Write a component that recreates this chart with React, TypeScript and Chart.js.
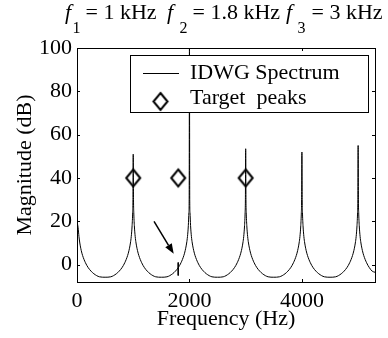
import React, { useEffect, useRef } from "react";
import { Chart, registerables } from "chart.js";

Chart.register(...registerables);

// ---- data ----
const freqs = [
  0, 20, 35, 50, 75, 100, 150, 200, 250, 300, 400,
  500, 600, 700, 750, 800, 850, 900, 925, 950, 965, 980, 990, 995,
  1000, 1005, 1010, 1020, 1035, 1050, 1075, 1100, 1150, 1200, 1250, 1300, 1400,
  1500, 1600, 1700, 1750, 1800, 1850, 1900, 1925, 1950, 1965, 1980, 1990, 1995,
  2000, 2005, 2010, 2020, 2035, 2050, 2075, 2100, 2150, 2200, 2250, 2300, 2400,
  2500, 2600, 2700, 2750, 2800, 2850, 2900, 2925, 2950, 2965, 2980, 2990, 2995,
  3000, 3005, 3010, 3020, 3035, 3050, 3075, 3100, 3150, 3200, 3250, 3300, 3400,
  3500, 3600, 3700, 3750, 3800, 3850, 3900, 3925, 3950, 3965, 3980, 3990, 3995,
  4000, 4005, 4010, 4020, 4035, 4050, 4075, 4100, 4150, 4200, 4250, 4300, 4400,
  4500, 4600, 4700, 4750, 4800, 4850, 4900, 4925, 4950, 4965, 4980, 4990, 4995,
  5000, 5005, 5010, 5020, 5035, 5050, 5075, 5100, 5150, 5200, 5250, 5300,
];
const mags = [
  20, 17, 13, 10, 6.6, 4.2, 0.9, -1.4, -3, -4.2, -5.6,
  -5.8, -5.6, -4.2, -3, -1.4, 0.9, 4.2, 6.6, 10, 13, 18, 24, 30,
  51, 30, 24, 18, 13, 10, 6.6, 4.2, 0.9, -1.4, -3, -4.2, -5.6,
  -5.8, -5.6, -4.2, -3, -1.4, 0.9, 4.2, 6.6, 10, 13, 18, 24, 30,
  100, 30, 24, 18, 13, 10, 6.6, 4.2, 0.9, -1.4, -3, -4.2, -5.6,
  -5.8, -5.6, -4.2, -3, -1.4, 0.9, 4.2, 6.6, 10, 13, 18, 24, 30,
  53.5, 30, 24, 18, 13, 10, 6.6, 4.2, 0.9, -1.4, -3, -4.2, -5.6,
  -5.8, -5.6, -4.2, -3, -1.4, 0.9, 4.2, 6.6, 10, 13, 18, 24, 30,
  52, 30, 24, 18, 13, 10, 6.6, 4.2, 0.9, -1.4, -3, -4.2, -5.6,
  -5.8, -5.6, -4.2, -3, -1.4, 0.9, 4.2, 6.6, 10, 13, 18, 24, 30,
  55, 30, 24, 18, 13, 10, 6.6, 4.2, 0.9, -1.4, -3, -3.5,
];
const targetFreqs = [1000, 1800, 3000];
const targetMags = [40, 40, 40];
const markFreqs = [1800, 1800];
const markMags = [1, -5];
const arrowFrom = [1370, 20];
const arrowTo = [1720, 5];
const xTicks = [0, 2000, 4000];
const yTicks = [0, 20, 40, 60, 80, 100];
const xRange = [0, 5300];
const yRange = [-8, 100];
const legendLabels = ["IDWG Spectrum", "Target  peaks"];
const titleSubs = ["1", "2", "3"];
const titleTexts = ["= 1 kHz", "= 1.8 kHz", "= 3 kHz"];
const xTitle = "Frequency (Hz)";
const yTitle = "Magnitude (dB)";

const FONT = "'Liberation Serif', 'Times New Roman', Times, serif";
const FS = 22;

function makeDiamond(hw: number, hh: number): HTMLCanvasElement {
  const c = document.createElement("canvas");
  const pad = 3;
  c.width = Math.ceil(hw * 2 + pad * 2);
  c.height = Math.ceil(hh * 2 + pad * 2);
  const g = c.getContext("2d")!;
  const cx = c.width / 2;
  const cy = c.height / 2;
  g.strokeStyle = "#000";
  g.lineWidth = 2;
  g.lineJoin = "miter";
  g.beginPath();
  g.moveTo(cx, cy - hh);
  g.lineTo(cx + hw, cy);
  g.lineTo(cx, cy + hh);
  g.lineTo(cx - hw, cy);
  g.closePath();
  g.stroke();
  return c;
}

export default function App() {
  const ref = useRef<HTMLCanvasElement>(null);

  useEffect(() => {
    const canvas = ref.current!;
    const diamond = makeDiamond(7, 8.5);

    const decor = {
      id: "decor",
      afterDraw(chart: any) {
        const { ctx, chartArea: a, scales } = chart;
        const xs = scales.x;
        const ys = scales.y;
        ctx.save();
        ctx.strokeStyle = "#000";
        ctx.fillStyle = "#000";
        ctx.lineWidth = 1;

        // inward ticks on all four sides
        const tl = 3;
        ctx.beginPath();
        for (const v of xTicks) {
          const px = Math.round(xs.getPixelForValue(v)) + 0.5;
          ctx.moveTo(px, a.bottom);
          ctx.lineTo(px, a.bottom - tl);
          ctx.moveTo(px, a.top);
          ctx.lineTo(px, a.top + tl);
        }
        for (const v of yTicks) {
          const py = Math.round(ys.getPixelForValue(v)) + 0.5;
          ctx.moveTo(a.left, py);
          ctx.lineTo(a.left + tl, py);
          ctx.moveTo(a.right, py);
          ctx.lineTo(a.right - tl, py);
        }
        ctx.stroke();

        // box
        ctx.strokeRect(
          Math.round(a.left) + 0.5,
          Math.round(a.top) + 0.5,
          Math.round(a.right - a.left),
          Math.round(a.bottom - a.top)
        );

        // arrow
        const x0 = xs.getPixelForValue(arrowFrom[0]);
        const y0 = ys.getPixelForValue(arrowFrom[1]);
        const x1 = xs.getPixelForValue(arrowTo[0]);
        const y1 = ys.getPixelForValue(arrowTo[1]);
        const ang = Math.atan2(y1 - y0, x1 - x0);
        const hl = 10;
        const hw = 3.8;
        const bx = x1 - hl * Math.cos(ang);
        const by = y1 - hl * Math.sin(ang);
        ctx.lineWidth = 1.5;
        ctx.beginPath();
        ctx.moveTo(x0, y0);
        ctx.lineTo(bx, by);
        ctx.stroke();
        ctx.beginPath();
        ctx.moveTo(x1, y1);
        ctx.lineTo(bx + hw * Math.sin(ang), by - hw * Math.cos(ang));
        ctx.lineTo(bx - hw * Math.sin(ang), by + hw * Math.cos(ang));
        ctx.closePath();
        ctx.fill();

        // legend
        ctx.lineWidth = 1;
        ctx.fillStyle = "#fff";
        ctx.fillRect(130, 55, 238, 57);
        ctx.strokeRect(130.5, 55.5, 238, 57);
        ctx.beginPath();
        ctx.moveTo(143, 73.5);
        ctx.lineTo(179, 73.5);
        ctx.stroke();
        ctx.drawImage(
          diamond,
          160.5 - diamond.width / 2,
          101.5 - diamond.height / 2
        );
        ctx.fillStyle = "#000";
        ctx.font = `${FS}px ${FONT}`;
        ctx.textBaseline = "alphabetic";
        ctx.textAlign = "left";
        ctx.fillText(legendLabels[0], 190, 79);
        ctx.fillText(legendLabels[1], 190, 103.5);

        // title with italic f and subscripts
        const fX = [65, 167, 286];
        const sX = [72.5, 179.5, 297.5];
        const tX = [85.5, 192.5, 311.5];
        for (let i = 0; i < 3; i++) {
          ctx.font = `italic ${FS}px ${FONT}`;
          ctx.fillText("f", fX[i], 19);
          ctx.font = `16px ${FONT}`;
          ctx.fillText(titleSubs[i], sX[i], 33);
          ctx.font = `${FS}px ${FONT}`;
          ctx.fillText(titleTexts[i], tX[i], 19);
        }
        ctx.restore();
      },
    };

    const chart = new Chart(canvas, {
      type: "line",
      data: {
        datasets: [
          {
            label: legendLabels[0],
            data: freqs.map((f, i) => ({ x: f, y: mags[i] })),
            borderColor: "#000",
            borderWidth: 1,
            pointRadius: 0,
            cubicInterpolationMode: "monotone",
            fill: false,
          },
          {
            label: legendLabels[1],
            data: targetFreqs.map((f, i) => ({ x: f, y: targetMags[i] })),
            showLine: false,
            pointStyle: diamond as any,
            pointRadius: 8,
            borderColor: "#000",
            backgroundColor: "rgba(0,0,0,0)",
          },
          {
            label: "mark",
            data: markFreqs.map((f, i) => ({ x: f, y: markMags[i] })),
            borderColor: "#000",
            borderWidth: 1,
            pointRadius: 0,
          },
        ],
      },
      options: {
        animation: false,
        responsive: false,
        devicePixelRatio: 1,
        layout: { padding: { top: 48, right: 13, left: 0, bottom: 0 } },
        plugins: {
          legend: { display: false },
          title: { display: false },
          tooltip: { enabled: false },
        },
        events: [],
        scales: {
          x: {
            type: "linear",
            min: xRange[0],
            max: xRange[1],
            afterBuildTicks: (s: any) => {
              s.ticks = xTicks.map((v) => ({ value: v }));
            },
            afterFit: (s: any) => {
              s.height = 56;
            },
            grid: { display: false, drawTicks: false },
            border: { display: false },
            ticks: {
              color: "#000",
              font: { family: FONT, size: FS },
              padding: 6,
              maxRotation: 0,
              autoSkip: false,
              callback: (v: any) => String(v),
            },
            title: {
              display: true,
              text: xTitle,
              color: "#000",
              font: { family: FONT, size: FS },
              padding: { top: 0, bottom: 6 },
            },
          },
          y: {
            type: "linear",
            min: yRange[0],
            max: yRange[1],
            afterBuildTicks: (s: any) => {
              s.ticks = yTicks.map((v) => ({ value: v }));
            },
            afterFit: (s: any) => {
              s.width = 77;
            },
            grid: { display: false, drawTicks: false },
            border: { display: false },
            ticks: {
              color: "#000",
              font: { family: FONT, size: FS },
              padding: 5,
              autoSkip: false,
              callback: (v: any) => String(v),
            },
            title: {
              display: true,
              text: yTitle,
              color: "#000",
              font: { family: FONT, size: FS },
              padding: { top: 12.5, bottom: 0 },
            },
          },
        },
      },
      plugins: [decor],
    } as any);

    return () => chart.destroy();
  }, []);

  return (
    <div
      style={{
        position: "fixed",
        left: 0,
        top: 0,
        width: 388,
        height: 338,
        background: "#fff",
      }}
    >
      <canvas
        ref={ref}
        width={388}
        height={338}
        style={{ display: "block", width: 388, height: 338 }}
      />
    </div>
  );
}
